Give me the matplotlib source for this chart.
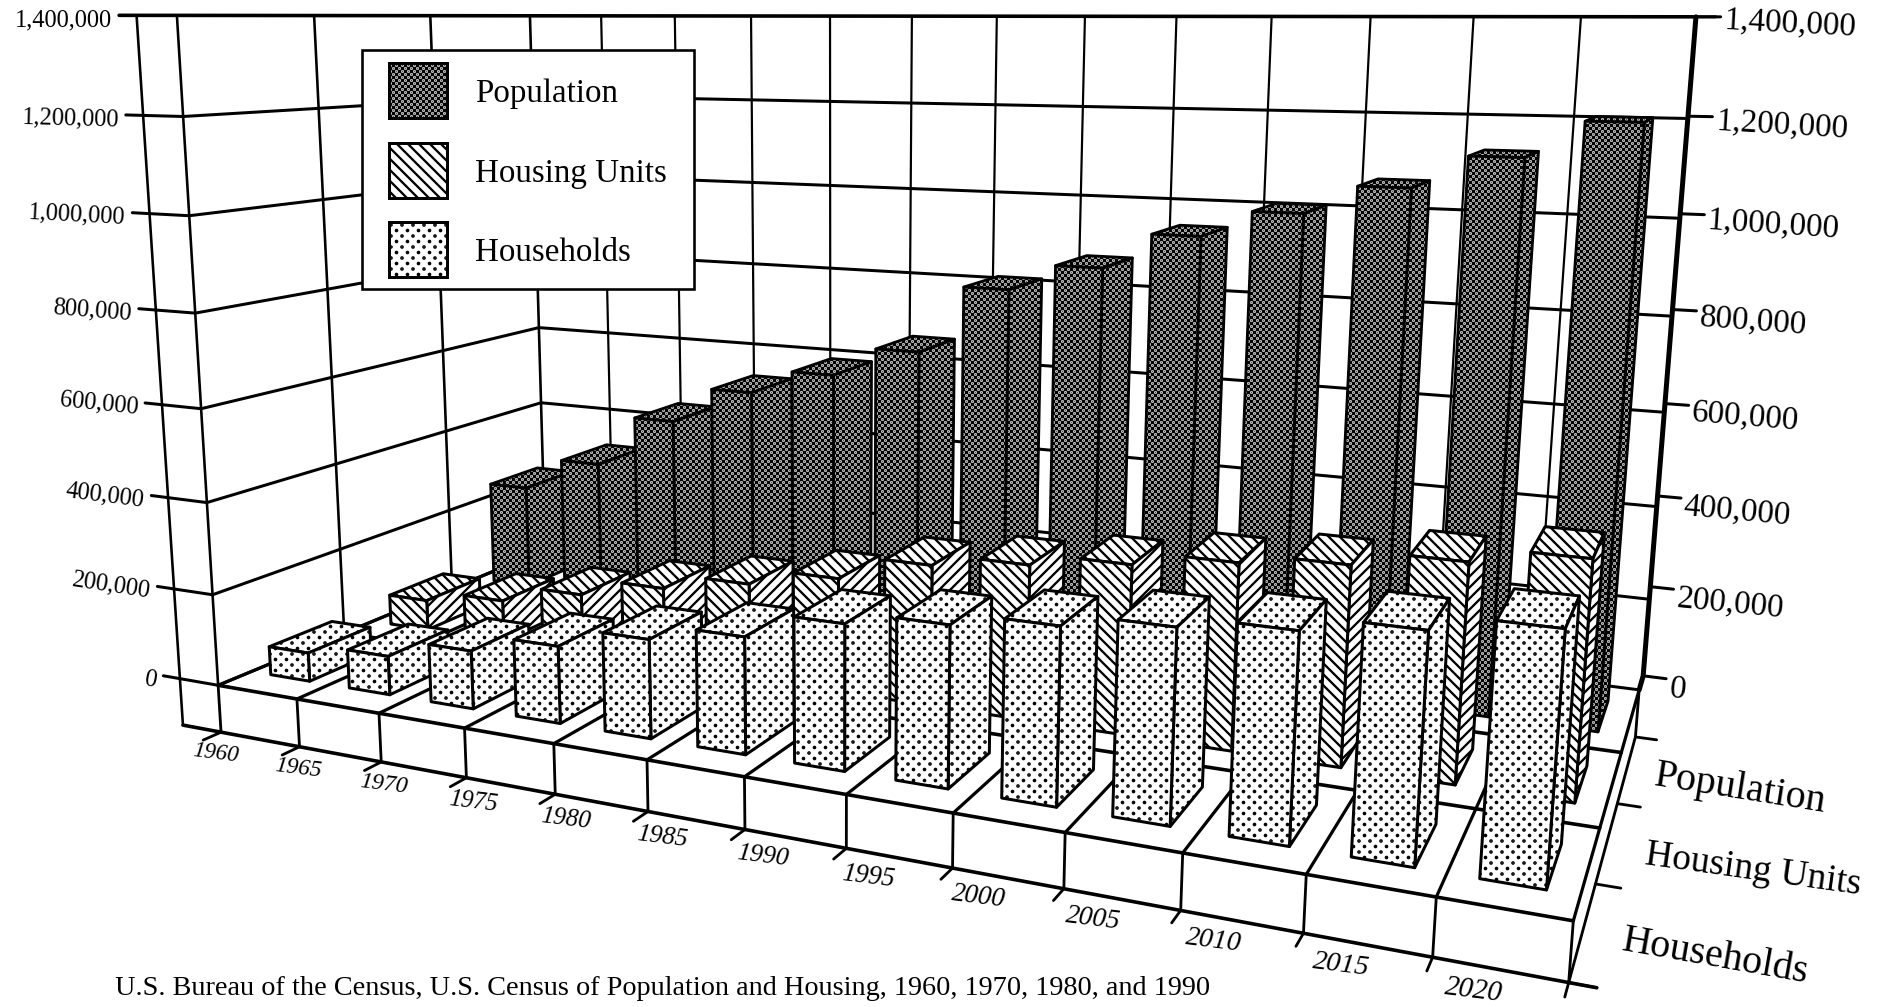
import numpy as np
import matplotlib
matplotlib.use("Agg")
import matplotlib.pyplot as plt
from matplotlib.patches import Polygon, Rectangle
from matplotlib.path import Path
import matplotlib.hatch as mhatch

years = [1960, 1965, 1970, 1975, 1980, 1985, 1990, 1995, 2000, 2005, 2010, 2015, 2020]
households = [63000, 84000, 124000, 162000, 204000, 237000, 290000, 315000, 340000, 365000, 386000, 414000, 444000]
housing_units = [70000, 95000, 135000, 175000, 210000, 247000, 300000, 325000, 350000, 378000, 398000, 428000, 458000]
population = [250000, 330000, 454000, 540000, 597000, 665000, 817000, 875000, 952000, 1008000, 1067000, 1133000, 1205000]
series_names = ["Households", "Housing Units", "Population"]
z_ticks = [0, 200000, 400000, 600000, 800000, 1000000, 1200000, 1400000]

DPI = 66
PT = 72 / DPI   # points per pixel
PLINTH = -105000
SERIF = "Liberation Serif"


class DotLattice(mhatch.HatchPatternBase):
    """Staggered dots: '.' wide sparse dots, 'o' dense dots."""
    SPEC = {".": (6, 12, 0.010), "o": (11, 22, 0.005)}

    def __init__(self, hatch, density):
        self.spec = next((self.SPEC[c] for c in self.SPEC if c in (hatch or "")), None)
        self.circle = Path.unit_circle()
        if self.spec is None:
            self.num_vertices = 0
        else:
            cols, rows, _ = self.spec
            self.num_vertices = (cols + 1) * (rows + 1) * len(self.circle.vertices)

    def set_vertices_and_codes(self, vertices, codes):
        cols, rows, r = self.spec
        n = len(self.circle.vertices)
        cur = 0
        half = 0.5 / DPI
        for row in range(rows + 1):
            for col in range(cols + 1):
                cx = (col + (0.5 if row % 2 else 0.0)) / cols + half
                cy = row / rows + half
                vertices[cur:cur + n] = self.circle.vertices * r + [cx, cy]
                codes[cur:cur + n] = self.circle.codes
                cur += n


mhatch._hatch_types[:] = [mhatch.NorthEastHatch, mhatch.SouthEastHatch, DotLattice]
plt.rcParams["hatch.linewidth"] = 2.3 * PT
plt.rcParams["font.family"] = [SERIF, "DejaVu Serif"]

# camera calibration: chart coordinates (x slot, y row, z in millions) -> picture pixels
front_x = [217, 296, 379, 466, 556, 649, 747, 849, 954, 1067, 1183, 1306, 1436, 1571]
front_y = [683, 698, 712, 728, 742, 760, 775, 794, 813, 833, 854, 876, 898, 923]
top_x = [531, 602, 676, 753, 831, 911, 997, 1085, 1176, 1271, 1369, 1472, 1581, 1692]
cal = []
for i in range(14):
    cal.append((i, 0, 0, front_x[i], front_y[i]))
    cal.append((i, 3, 1.4, top_x[i], 16))
for k, (px, py) in enumerate([(217, 683), (212, 593), (205, 502), (200, 409), (193, 314), (189, 217), (184, 118), (176, 17)]):
    cal.append((0, 0, 0.2 * k, px, py))
for k, (px, py) in enumerate([(1640, 690), (1645, 598), (1653, 507), (1661, 413), (1668, 316), (1678, 217), (1689, 117), (1692, 17)]):
    cal.append((13, 3, 0.2 * k, px, py))
for k, (px, py) in enumerate([(545, 553), (543, 478), (541, 402), (538, 327)]):
    cal.append((0, 3, 0.2 * k, px, py))
cal += [(13, 1, 0, 1599, 830), (13, 2, 0, 1620, 753), (0, 1, 1.4, 314, 17), (0, 2, 1.4, 430, 16)]
cal = np.array(cal, float)

A = []
for X, Y, Z, u, v in cal:
    u, v = u / 1000, v / 1000
    A.append([X, Y, Z, 1, 0, 0, 0, 0, -u * X, -u * Y, -u * Z, -u])
    A.append([0, 0, 0, 0, X, Y, Z, 1, -v * X, -v * Y, -v * Z, -v])
CAM = np.linalg.svd(np.array(A))[2][-1].reshape(3, 4)


def proj(x, y, z):
    h = CAM @ np.array([x, y, z / 1e6, 1.0])
    return (h[0] / h[2] * 1000, h[1] / h[2] * 1000)


fig = plt.figure(figsize=(1889.01 / DPI, 1007.01 / DPI), dpi=DPI, facecolor="white")
ax = fig.add_axes([0, 0, 1, 1])
ax.set_xlim(0, 1889)
ax.set_ylim(1007, 0)
ax.axis("off")

order = [10]


def nz():
    order[0] += 1
    return order[0]


def seg(pts, lw=2.4):
    xy = np.array([proj(*p) for p in pts])
    ax.plot(xy[:, 0], xy[:, 1], color="black", lw=lw * PT, solid_capstyle="round",
            solid_joinstyle="round", zorder=nz())


TOP = z_ticks[-1]
# walls
for z in z_ticks:
    seg([(-0.72, 0, z), (0, 0, z), (0, 3, z), (13, 3, z)], 3.0 if z != TOP else 3.6)
for j in range(4):
    seg([(0, j, 0), (0, j, TOP)], 2.6)
for i in range(1, 13):
    seg([(i, 3, 0), (i, 3, TOP)], 2.2)
seg([(13, 3, TOP), (13.2, 3.0, TOP)], 3.0)
# floor
for j in range(3):
    seg([(0, j, 0), (13, j, 0)], 3.6)
for i in range(14):
    seg([(i, 0, 0), (i, 3, 0)], 3.2)
# plinth
seg([(-0.5, 0, PLINTH), (13.2, 0, PLINTH)], 3.6)
seg([(-0.5, 0, PLINTH), (-0.5, 0, TOP)], 2.6)
for i in range(14):
    seg([(i, 0, 0), (i, 0, PLINTH), (i, -0.13, PLINTH)], 2.8)
for j in range(4):
    seg([(13, j, PLINTH), (13.2, j, PLINTH)], 2.8)
seg([(13, 3, 0), (13, 3, PLINTH), (13, 0, PLINTH)], 2.8)
seg([(13, 3.25, TOP), (13, 3.25, 0), (13, 3, 0)], 5.0)
for z in z_ticks:
    seg([(13, 3.25, z), (13.22, 3.25, z)], 3.0)


def face(pts, hatch, dark):
    xy = [proj(*p) for p in pts]
    if dark:
        ax.add_patch(Polygon(xy, closed=True, facecolor="black", edgecolor="white", hatch=hatch, lw=0, zorder=nz()))
        ax.add_patch(Polygon(xy, closed=True, fill=False, edgecolor="black", lw=2.8 * PT, joinstyle="round", zorder=nz()))
    else:
        ax.add_patch(Polygon(xy, closed=True, facecolor="white", edgecolor="black", hatch=hatch, lw=3.0 * PT, joinstyle="round", zorder=nz()))


def bar(i, row, value, h_front, h_side, h_top, dark):
    x0, x1 = i + 0.25, i + 0.75
    y0, y1 = row + 0.25, row + 0.75
    face([(x0, y0, value), (x1, y0, value), (x1, y1, value), (x0, y1, value)], h_top, dark)
    face([(x1, y0, 0), (x1, y1, 0), (x1, y1, value), (x1, y0, value)], h_side, dark)
    face([(x0, y0, 0), (x1, y0, 0), (x1, y0, value), (x0, y0, value)], h_front, dark)


for i, v in enumerate(population):
    bar(i, 2, v, "o", "o", "o", True)
for i, v in enumerate(housing_units):
    bar(i, 1, v, "\\\\", "//", "\\\\", False)
for i, v in enumerate(households):
    bar(i, 0, v, ".", ".", ".", False)

# value labels
for z in z_ticks:
    a, b = proj(-0.72, 0, z), proj(0, 0, z)
    ang = -np.degrees(np.arctan2(b[1] - a[1], b[0] - a[0]))
    ax.text(a[0] - 7, a[1] + 5, f"{z:,}", ha="right", va="center", rotation=ang, rotation_mode="anchor",
            fontsize=24.5 * PT, zorder=nz())
    e = proj(13.22, 3.25, z)
    f = 1 - z / TOP
    ax.text(e[0] + 3, e[1] + 3 + 7 * f, f"{z:,}", ha="left", va="center", rotation=-3 - 3 * f, rotation_mode="anchor",
            fontsize=33 * PT, zorder=nz())

# year labels
for i, yr in enumerate(years):
    px, py = proj(i, 0, PLINTH)
    t = i / 12
    ax.text(px - 5 + 46 * t, py + 21 + 12 * t, str(yr), ha="center", va="center", rotation=-7,
            rotation_mode="anchor", style="italic", fontsize=(23 + 6 * t) * PT, zorder=nz())

# row labels
for name, (px, py, rot, em) in zip(series_names, [(1623, 941, -10, 40), (1645, 855, -8, 37.5), (1655, 776, -9, 40)]):
    ax.text(px, py, name, ha="left", va="center", rotation=rot, rotation_mode="anchor", fontsize=em * PT, zorder=nz())

# key
z0 = 5000
ax.add_patch(Rectangle((362, 50), 332, 239, facecolor="white", edgecolor="black", lw=2.6 * PT, zorder=z0))
key = [("Population", 63, "o", True), ("Housing Units", 143, "\\\\", False), ("Households", 222, ".", False)]
for n, (label, top, h, dark) in enumerate(key):
    if dark:
        ax.add_patch(Rectangle((389, top), 58, 55, facecolor="black", edgecolor="white", hatch=h, lw=0, zorder=z0 + 1))
        ax.add_patch(Rectangle((389, top), 58, 55, fill=False, edgecolor="black", lw=3 * PT, zorder=z0 + 2))
    else:
        ax.add_patch(Rectangle((389, top), 58, 55, facecolor="white", edgecolor="black", hatch=h, lw=3 * PT, zorder=z0 + 1))
    ax.text(475, top + 31, label, ha="left", va="center", fontsize=33 * PT, zorder=z0 + 3)

ax.text(115, 1001, "U.S. Bureau of the Census, U.S. Census of Population and Housing, 1960, 1970, 1980, and 1990",
        ha="left", va="bottom", fontsize=28.3 * PT, zorder=nz())

fig.savefig("out.png", dpi=DPI, facecolor="white")
